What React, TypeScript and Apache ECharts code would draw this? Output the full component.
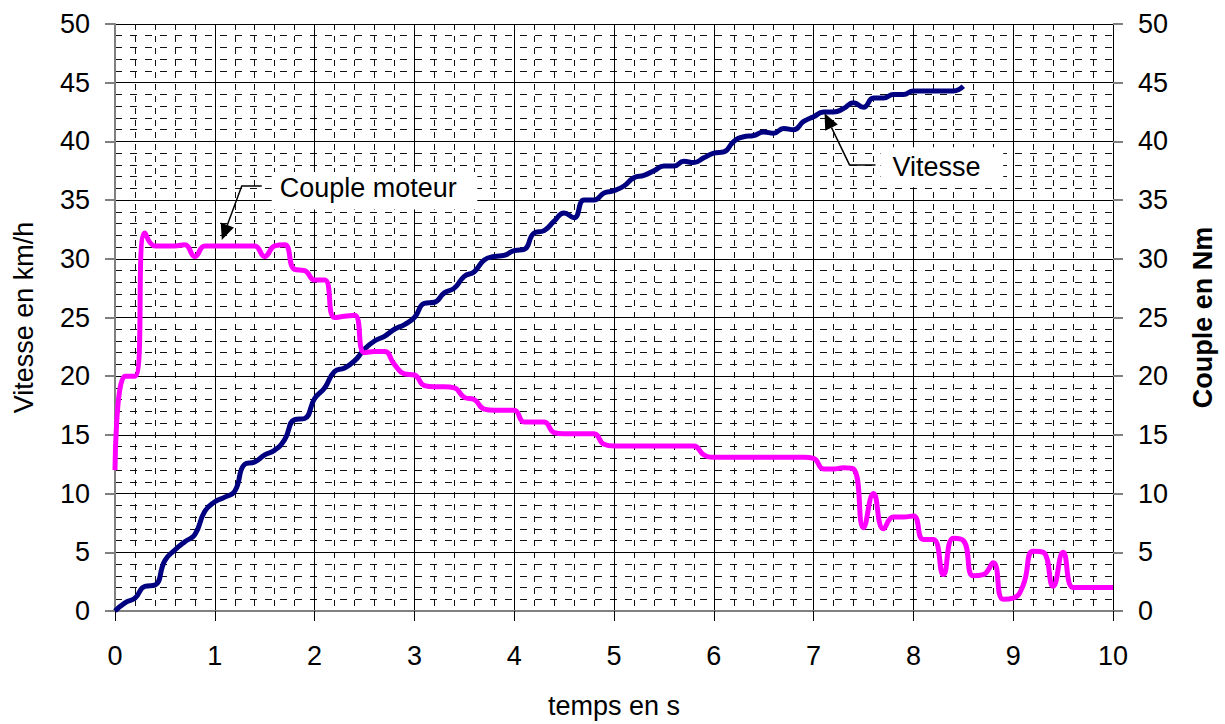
import React, { useEffect, useRef } from "react";
import * as echarts from "echarts";

// time (s) sampled every 0.1 s
const timeS = [
  0, 0.1, 0.2, 0.3, 0.4, 0.5, 0.6, 0.7, 0.8, 0.9,
  1, 1.1, 1.2, 1.3, 1.4, 1.5, 1.6, 1.7, 1.8, 1.9,
  2, 2.1, 2.2, 2.3, 2.4, 2.5, 2.6, 2.7, 2.8, 2.9,
  3, 3.1, 3.2, 3.3, 3.4, 3.5, 3.6, 3.7, 3.8, 3.9,
  4, 4.1, 4.2, 4.3, 4.4, 4.5, 4.6, 4.7, 4.8, 4.9,
  5, 5.1, 5.2, 5.3, 5.4, 5.5, 5.6, 5.7, 5.8, 5.9,
  6, 6.1, 6.2, 6.3, 6.4, 6.5, 6.6, 6.7, 6.8, 6.9,
  7, 7.1, 7.2, 7.3, 7.4, 7.5, 7.6, 7.7, 7.8, 7.9,
  8, 8.1, 8.2, 8.3, 8.4, 8.5, 8.6, 8.7, 8.8, 8.9,
  9, 9.1, 9.2, 9.3, 9.4, 9.5, 9.6, 9.7, 9.8, 9.9,
  10,
];

// Vitesse (km/h), from 0 to 8.5 s
const vitesseKmh = [
  0, 0.7, 1.1, 2.1, 2.2, 4.3, 5.2, 5.9, 6.5, 8.5,
  9.3, 9.7, 10.2, 12.5, 12.7, 13.3, 13.7, 14.6, 16.3, 16.4,
  18.1, 19.0, 20.4, 20.7, 21.3, 22.3, 23.0, 23.4, 24.0, 24.4,
  25.0, 26.2, 26.3, 27.1, 27.5, 28.5, 28.9, 29.9, 30.2, 30.3,
  30.7, 30.8, 32.2, 32.4, 33.2, 33.9, 33.5, 35.0, 35.0, 35.6,
  35.8, 36.2, 36.9, 37.1, 37.5, 37.9, 37.9, 38.3, 38.2, 38.6,
  39.0, 39.1, 40.0, 40.4, 40.5, 40.8, 40.7, 41.1, 41.0, 41.7,
  42.1, 42.5, 42.5, 42.8, 43.3, 42.9, 43.7, 43.7, 44.0, 44.0,
  44.3, 44.3, 44.3, 44.3, 44.3, 44.7,
];

// Couple moteur (Nm), from 0 to 10 s
const coupleNm = [
  12.0, 20.0, 20.0, 32.2, 31.1, 31.1, 31.1, 31.2, 30.2, 31.1,
  31.1, 31.1, 31.1, 31.1, 31.1, 30.2, 31.1, 31.2, 29.1, 29.0,
  28.2, 28.2, 25.0, 25.1, 25.2, 22.0, 22.1, 22.1, 21.0, 20.2,
  20.1, 19.2, 19.1, 19.1, 19.0, 18.2, 18.0, 17.2, 17.1, 17.1,
  17.1, 16.1, 16.1, 16.1, 15.2, 15.1, 15.1, 15.1, 15.1, 14.2,
  14.05, 14.05, 14.05, 14.05, 14.05, 14.05, 14.05, 14.05, 14.05, 13.3,
  13.1, 13.1, 13.1, 13.1, 13.1, 13.1, 13.1, 13.1, 13.1, 13.1,
  13.0, 12.1, 12.1, 12.2, 12.1, 7.1, 10.0, 7.0, 8.0, 8.0,
  8.1, 6.1, 6.1, 3.1, 6.2, 6.0, 3.0, 3.1, 4.1, 1.0,
  1.1, 2.2, 5.1, 5.0, 2.1, 5.0, 2.0, 2.0, 2.0, 2.0,
  2.0,
];

const xTickLabels = ["0", "1", "2", "3", "4", "5", "6", "7", "8", "9", "10"];
const yTickLabels = ["0", "5", "10", "15", "20", "25", "30", "35", "40", "45", "50"];

const xTitle = "temps en s";
const yLeftTitle = "Vitesse en km/h";
const yRightTitle = "Couple en Nm";
const labelCouple = "Couple moteur";
const labelVitesse = "Vitesse";

const FONT = '"Liberation Sans", Arial, sans-serif';
const FS = 27;

export default function App() {
  const ref = useRef<HTMLDivElement>(null);

  useEffect(() => {
    if (!ref.current) return;
    const chart = echarts.init(ref.current, null, { renderer: "svg" });

    const gray = "#808080";
    const yAxisCommon = {
      type: "value" as const,
      min: 0,
      max: 50,
      interval: 5,
      nameLocation: "middle" as const,
      nameTextStyle: { fontFamily: FONT, fontSize: FS, color: "#000" },
      axisLabel: {
        fontFamily: FONT,
        fontSize: FS,
        color: "#000",
        margin: 25,
        formatter: (v: number) => yTickLabels[Math.round(v / 5)] ?? "",
      },
      axisTick: { show: true, inside: false, length: 10, lineStyle: { color: gray, width: 2 } },
      axisLine: { show: true, lineStyle: { color: gray, width: 2 } },
    };

    chart.setOption({
      animation: false,
      backgroundColor: "#fff",
      grid: { left: 115, right: 112, top: 24, bottom: 113, containLabel: false },
      xAxis: {
        type: "value",
        min: 0,
        max: 10,
        interval: 1,
        name: xTitle,
        nameLocation: "middle",
        nameGap: 81,
        nameTextStyle: { fontFamily: FONT, fontSize: FS, color: "#000" },
        axisLabel: {
          fontFamily: FONT,
          fontSize: FS,
          color: "#000",
          margin: 31,
          formatter: (v: number) => xTickLabels[Math.round(v)] ?? "",
        },
        axisTick: { show: true, length: 10, lineStyle: { color: "#000", width: 1 } },
        axisLine: { show: true, onZero: false, lineStyle: { color: gray, width: 2 } },
        splitLine: { show: true, lineStyle: { color: "#000", width: 1 } },
        minorTick: { show: false, splitNumber: 5 },
        minorSplitLine: { show: true, lineStyle: { color: "#111", width: 1, type: [6, 6] } },
      },
      yAxis: [
        {
          ...yAxisCommon,
          position: "left",
          name: yLeftTitle,
          nameGap: 78,
          splitLine: { show: true, lineStyle: { color: "#000", width: 1 } },
          minorTick: { show: false, splitNumber: 5 },
          minorSplitLine: { show: true, lineStyle: { color: "#111", width: 1, type: [7, 8] } },
        },
        {
          ...yAxisCommon,
          position: "right",
          name: yRightTitle,
          nameGap: 76,
          nameTextStyle: { fontFamily: FONT, fontSize: FS, color: "#000", fontWeight: "bold" },
          axisLine: { show: true, lineStyle: { color: "#000", width: 1 } },
          splitLine: { show: false },
        },
      ],
      series: [
        {
          name: "Vitesse",
          type: "line",
          xAxisIndex: 0,
          yAxisIndex: 0,
          data: vitesseKmh.map((v, i) => [timeS[i], v]),
          showSymbol: false,
          symbol: "none",
          smooth: 0.5,
          lineStyle: { color: "#000080", width: 5 },
          z: 3,
        },
        {
          name: "Couple moteur",
          type: "line",
          xAxisIndex: 0,
          yAxisIndex: 1,
          data: coupleNm.map((v, i) => [timeS[i], v]),
          showSymbol: false,
          symbol: "none",
          smooth: 0.5,
          lineStyle: { color: "#FF00FF", width: 5 },
          z: 4,
        },
      ],
    });

    const px = (t: number, v: number) =>
      chart.convertToPixel({ gridIndex: 0 }, [t, v]) as number[];

    const annotation = (
      text: string,
      tip: [number, number],
      elbow: [number, number],
      lineEndT: number,
      box: [number, number, number, number],
      textT: number,
      textV: number
    ) => {
      const pTip = px(tip[0], tip[1]);
      const pElbow = px(elbow[0], elbow[1]);
      const pEnd = px(lineEndT, elbow[1]);
      const dx = pTip[0] - pElbow[0];
      const dy = pTip[1] - pElbow[1];
      const len = Math.hypot(dx, dy);
      const ux = dx / len;
      const uy = dy / len;
      const headL = 16;
      const headW = 7;
      const bx = pTip[0] - ux * headL;
      const by = pTip[1] - uy * headL;
      const b1 = px(box[0], box[1]);
      const b2 = px(box[2], box[3]);
      const pText = px(textT, textV);
      return [
        {
          type: "rect",
          shape: { x: b1[0], y: b1[1], width: b2[0] - b1[0], height: b2[1] - b1[1] },
          style: { fill: "#fff" },
          z: 10,
        },
        {
          type: "text",
          x: pText[0],
          y: pText[1],
          style: {
            text,
            fontFamily: FONT,
            fontSize: FS,
            fill: "#000",
            textAlign: "left",
            textVerticalAlign: "middle",
            verticalAlign: "middle",
          },
          z: 11,
        },
        {
          type: "polyline",
          shape: { points: [pEnd, pElbow, [bx, by]] },
          style: { stroke: "#000", lineWidth: 1.5, fill: null },
          z: 11,
        },
        {
          type: "polygon",
          shape: {
            points: [
              [pTip[0], pTip[1]],
              [bx - uy * headW, by + ux * headW],
              [bx + uy * headW, by - ux * headW],
            ],
          },
          style: { fill: "#000" },
          z: 11,
        },
      ];
    };

    chart.setOption({
      graphic: [
        ...annotation(labelCouple, [1.07, 31.6], [1.27, 36.2], 1.47, [1.57, 37.4, 3.63, 34.2], 1.65, 36.0),
        ...annotation(labelVitesse, [7.11, 42.4], [7.36, 38.0], 7.62, [7.67, 39.5, 8.9, 36.1], 7.79, 37.8),
      ],
    });

    return () => chart.dispose();
  }, []);

  return (
    <div
      ref={ref}
      style={{ position: "fixed", left: 0, top: 0, width: 1225, height: 724, background: "#fff" }}
    />
  );
}
